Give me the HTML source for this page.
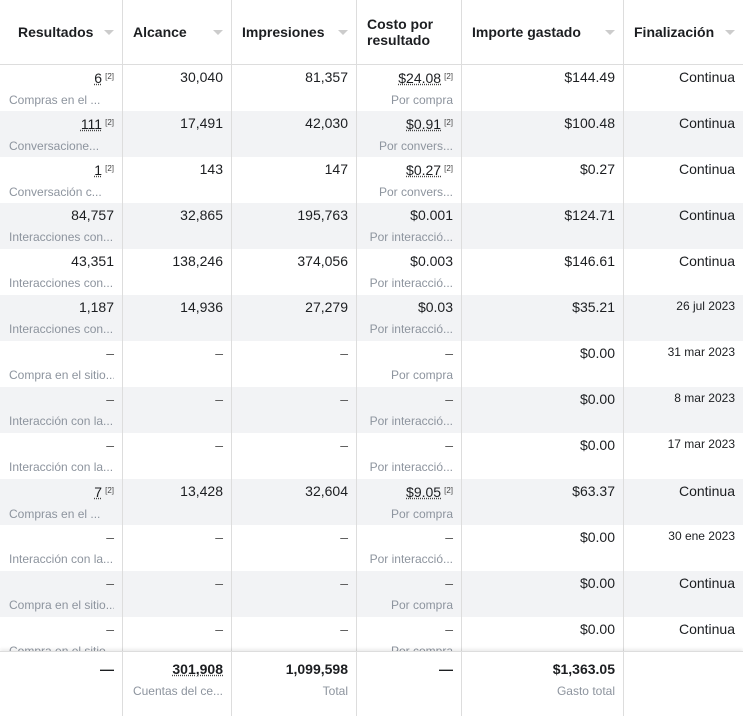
<!DOCTYPE html><html><head><style>
body{margin:0;width:743px;height:715px;overflow:hidden;background:#fff;font-family:"Liberation Sans",sans-serif;position:relative}
.h{position:absolute;top:0;height:64px;border-right:1px solid #ddd;font-weight:bold;font-size:14px;color:#1c1e21;box-sizing:border-box}
.h span{position:absolute;left:10px;top:24px;line-height:16px}
.h i{position:absolute;right:8px;top:30px;width:0;height:0;border-left:5px solid transparent;border-right:5px solid transparent;border-top:5px solid #ccc}
.row{position:absolute;left:0;width:743px;height:46px}
.g{background:#f2f3f5}
.c{position:absolute;top:0;height:46px;border-right:1px solid #ddd;box-sizing:border-box;text-align:right;padding-right:8px}
.m{font-size:14px;color:#1c1e21;margin-top:4px;line-height:16px;white-space:nowrap}
.s{font-size:12px;color:#8d949e;margin-top:7px;line-height:14px;white-space:nowrap;overflow:hidden}
.l{text-align:left}
sup{font-size:8px;color:#444;vertical-align:4px;margin-left:3px}
u{text-decoration:underline dotted #444}
.d{font-size:12px;margin-top:3px}
.x{color:#555}
</style></head><body>
<div style="position:absolute;left:0;top:64px;width:743px;height:1px;background:#ddd"></div>
<div class="h" style="left:0;width:123px"><span style="left:18px">Resultados</span><i></i></div>
<div class="h" style="left:123px;width:109px"><span>Alcance</span><i></i></div>
<div class="h" style="left:232px;width:125px"><span>Impresiones</span><i></i></div>
<div class="h" style="left:357px;width:105px"><span style="top:16px">Costo por<br>resultado</span></div>
<div class="h" style="left:462px;width:162px"><span>Importe gastado</span><i></i></div>
<div class="h" style="left:624px;width:119px;border:0"><span>Finalización</span><i></i></div>
<div id="rows"></div>
<script>
var R=[
["6",1,"Compras en el ...","30,040","81,357","$24.08",1,"Por compra","$144.49","Continua"],
["111",1,"Conversacione...","17,491","42,030","$0.91",1,"Por convers...","$100.48","Continua"],
["1",1,"Conversación c...","143","147","$0.27",1,"Por convers...","$0.27","Continua"],
["84,757",0,"Interacciones con...","32,865","195,763","$0.001",0,"Por interacció...","$124.71","Continua"],
["43,351",0,"Interacciones con...","138,246","374,056","$0.003",0,"Por interacció...","$146.61","Continua"],
["1,187",0,"Interacciones con...","14,936","27,279","$0.03",0,"Por interacció...","$35.21","26 jul 2023"],
["–",0,"Compra en el sitio...","–","–","–",0,"Por compra","$0.00","31 mar 2023"],
["–",0,"Interacción con la...","–","–","–",0,"Por interacció...","$0.00","8 mar 2023"],
["–",0,"Interacción con la...","–","–","–",0,"Por interacció...","$0.00","17 mar 2023"],
["7",1,"Compras en el ...","13,428","32,604","$9.05",1,"Por compra","$63.37","Continua"],
["–",0,"Interacción con la...","–","–","–",0,"Por interacció...","$0.00","30 ene 2023"],
["–",0,"Compra en el sitio...","–","–","–",0,"Por compra","$0.00","Continua"],
["–",0,"Compra en el sitio...","–","–","–",0,"Por compra","$0.00","Continua"]];
var X=[0,123,232,357,462,624,743],h="";
function v(t,f){return f?"<u>"+t+"</u><sup>[2]</sup>":(t=="–"?'<span class="x">–</span>':t)}
R.forEach(function(r,i){
var top=65+i*46;
h+='<div class="row'+(i%2?' g':'')+'" style="top:'+top+'px">';
var cells=[
'<div class="m">'+v(r[0],r[1])+'</div><div class="s l">'+r[2]+'</div>',
'<div class="m">'+v(r[3])+'</div>','<div class="m">'+v(r[4])+'</div>',
'<div class="m">'+v(r[5],r[6])+'</div><div class="s">'+r[7]+'</div>',
'<div class="m">'+r[8]+'</div>',
'<div class="m'+(r[9]=="Continua"?'':' d')+'">'+r[9]+'</div>'];
for(var k=0;k<6;k++){
var st='left:'+X[k]+'px;width:'+(X[k+1]-X[k])+'px;';
if(k==0)st+='padding-left:9px;';
if(k==5)st+='border:0;';
h+='<div class="c" style="'+st+'">'+cells[k]+'</div>';}
h+='</div>';});
document.getElementById('rows').innerHTML=h;
</script>
<div style="position:absolute;left:0;top:651px;width:743px;height:64px;background:#fff;border-top:1px solid #ddd;box-shadow:0 -2px 3px rgba(0,0,0,0.08)">
<div class="c" style="left:0;width:123px;height:64px"><div class="m" style="font-weight:bold;margin-top:9px">—</div></div>
<div class="c" style="left:123px;width:109px;height:64px"><div class="m" style="font-weight:bold;margin-top:9px"><u>301,908</u></div><div class="s">Cuentas del ce...</div></div>
<div class="c" style="left:232px;width:125px;height:64px"><div class="m" style="font-weight:bold;margin-top:9px">1,099,598</div><div class="s">Total</div></div>
<div class="c" style="left:357px;width:105px;height:64px"><div class="m" style="font-weight:bold;margin-top:9px">—</div></div>
<div class="c" style="left:462px;width:162px;height:64px"><div class="m" style="font-weight:bold;margin-top:9px">$1,363.05</div><div class="s">Gasto total</div></div>
</div>
</body></html>
